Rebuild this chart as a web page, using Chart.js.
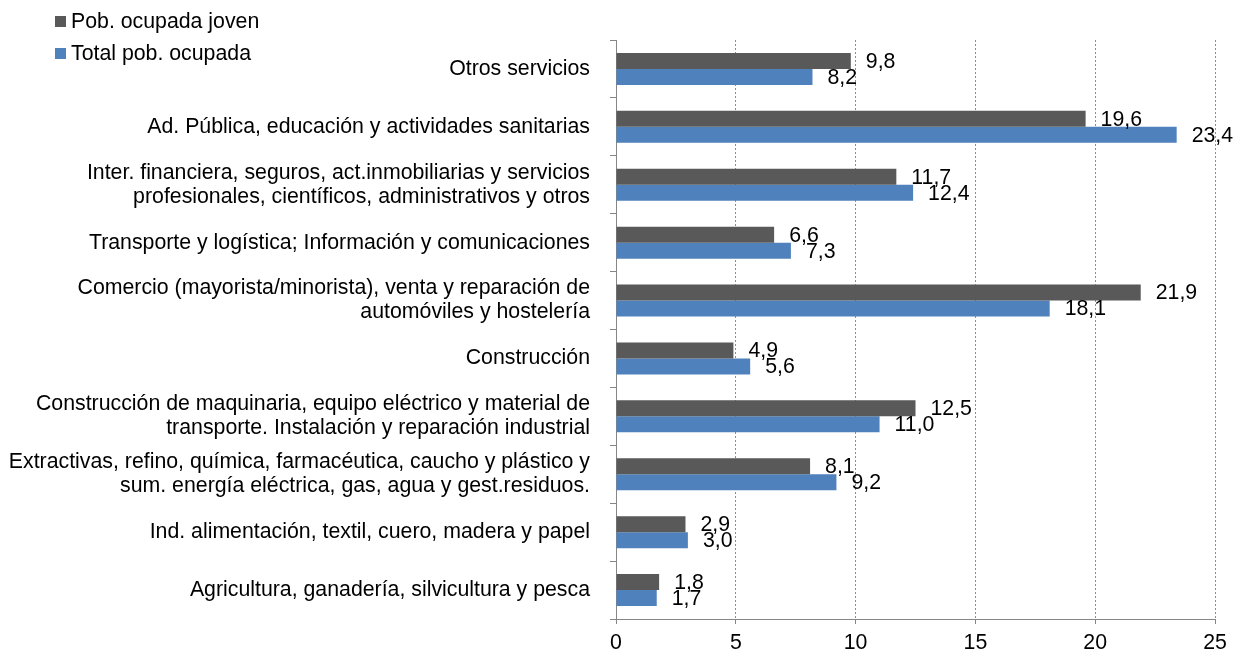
<!DOCTYPE html>
<html lang="es">
  <head>
    <meta charset="UTF-8" />
    <title>Ocupados por rama de actividad</title>
    <script src="https://cdn.jsdelivr.net/npm/chart.js"></script>
    <style>
      body {
        margin: 0;
        background: #fff;
      }
      .chart-box {
        width: 1247px;
        height: 652px;
        position: relative;
      }
    </style>
  </head>
  <body>
    <div class="chart-box">
      <canvas id="ramaChart"></canvas>
    </div>

    <script>
      const categorias = [
        "Otros servicios",
        "Ad. Pública, educación y actividades sanitarias",
        ["Inter. financiera, seguros, act.inmobiliarias y servicios", "profesionales, científicos, administrativos y otros"],
        "Transporte y logística; Información y comunicaciones",
        ["Comercio (mayorista/minorista), venta y reparación de", "automóviles y hostelería"],
        "Construcción",
        ["Construcción de maquinaria, equipo eléctrico y material de", "transporte. Instalación y reparación industrial"],
        ["Extractivas, refino, química, farmacéutica, caucho y plástico y", "sum. energía eléctrica, gas, agua y gest.residuos."],
        "Ind. alimentación, textil, cuero, madera y papel",
        "Agricultura, ganadería, silvicultura y pesca",
      ];
      const ocupadaJoven = [9.8, 19.6, 11.7, 6.6, 21.9, 4.9, 12.5, 8.1, 2.9, 1.8];
      const totalOcupada = [8.2, 23.4, 12.4, 7.3, 18.1, 5.6, 11.0, 9.2, 3.0, 1.7];
      const series = ["Pob. ocupada joven", "Total pob. ocupada"];
      const ejeX = { min: 0, max: 25, paso: 5 };

      const fuente = "'Liberation Sans', Arial, sans-serif";
      const tam = 21.3;

      // etiquetas con el valor al final de cada barra (coma decimal)
      const etiquetasValor = {
        id: "etiquetasValor",
        afterDatasetsDraw(chart) {
          const c = chart.ctx;
          c.save();
          c.font = tam + "px " + fuente;
          c.fillStyle = "#000";
          c.textAlign = "left";
          c.textBaseline = "middle";
          chart.data.datasets.forEach((ds, i) => {
            chart.getDatasetMeta(i).data.forEach((bar, j) => {
              const txt = ds.data[j].toFixed(1).replace(".", ",");
              c.fillText(txt, bar.x + 15, bar.y + 1);
            });
          });
          c.restore();
        },
      };

      // leyenda vertical arriba a la izquierda
      const leyenda = {
        id: "leyenda",
        afterDraw(chart) {
          const c = chart.ctx;
          c.save();
          c.font = tam + "px " + fuente;
          c.textBaseline = "middle";
          chart.data.datasets.forEach((ds, i) => {
            const y = 21 + i * 32;
            c.fillStyle = ds.backgroundColor;
            c.fillRect(55, y - 5, 11, 11);
            c.fillStyle = "#000";
            c.fillText(ds.label, 71, y + 1);
          });
          c.restore();
        },
      };

      document.addEventListener("DOMContentLoaded", () => {
        const ctx = document.getElementById("ramaChart").getContext("2d");
        new Chart(ctx, {
          type: "bar",
          data: {
            labels: categorias,
            datasets: [
              {
                label: series[0],
                data: ocupadaJoven,
                backgroundColor: "#595959",
                categoryPercentage: 0.553,
                barPercentage: 1.0,
              },
              {
                label: series[1],
                data: totalOcupada,
                backgroundColor: "#4F81BD",
                categoryPercentage: 0.553,
                barPercentage: 1.0,
              },
            ],
          },
          options: {
            indexAxis: "y",
            responsive: true,
            maintainAspectRatio: false,
            animation: false,
            layout: {
              padding: { top: 40, right: 32, bottom: 0, left: 0 },
            },
            plugins: {
              legend: { display: false },
              tooltip: { enabled: false },
            },
            scales: {
              x: {
                min: ejeX.min,
                max: ejeX.max,
                ticks: {
                  stepSize: ejeX.paso,
                  color: "#000",
                  font: { family: fuente, size: tam },
                  padding: 6,
                },
                grid: {
                  color: "#8c8c8c",
                  tickColor: "#868686",
                  tickLength: 5,
                  tickBorderDash: [],
                },
                border: {
                  color: "#868686",
                  dash: [2, 2],
                },
                afterFit(scale) {
                  scale.height = 33;
                },
              },
              y: {
                ticks: {
                  color: "#000",
                  font: { family: fuente, size: tam, lineHeight: 1.13 },
                  padding: 20,
                },
                grid: {
                  drawOnChartArea: false,
                  offset: true,
                  color: "#868686",
                  tickLength: 6,
                },
                border: {
                  color: "#868686",
                },
                afterFit(scale) {
                  scale.width = 616;
                },
              },
            },
          },
          plugins: [etiquetasValor, leyenda],
        });
      });
    </script>
  </body>
</html>
